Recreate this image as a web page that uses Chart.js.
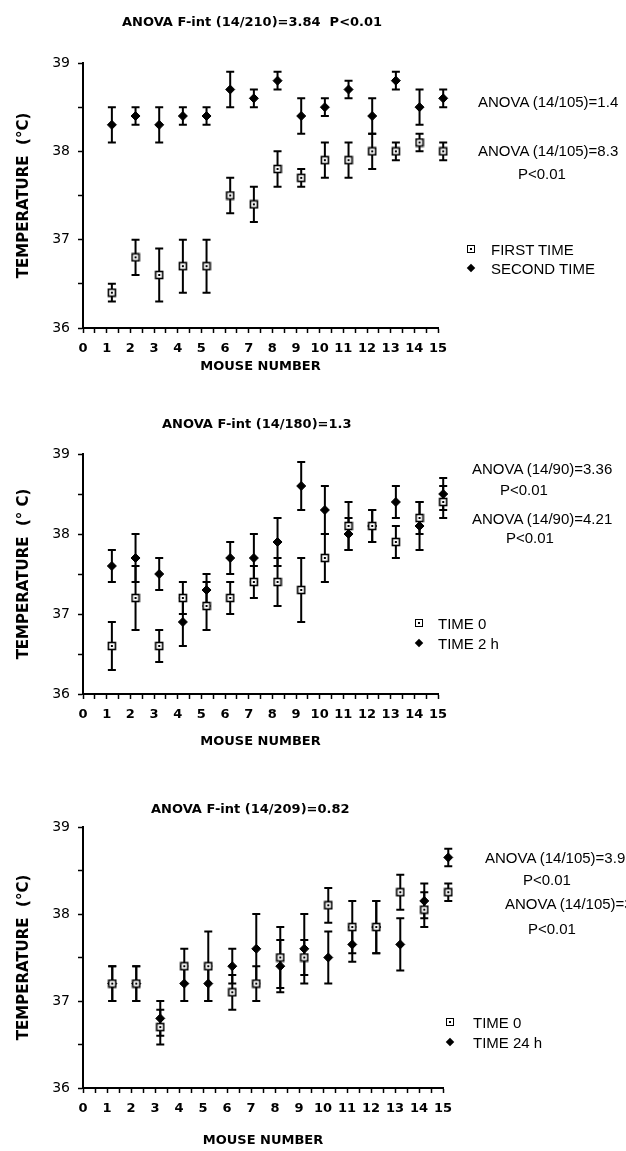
<!DOCTYPE html>
<html>
<head>
<meta charset="utf-8">
<script src="https://cdn.jsdelivr.net/npm/chart.js@4.4.1/dist/chart.umd.min.js"></script>
<style>
  html, body { margin: 0; padding: 0; background: #fff; }
  body { width: 626px; height: 1151px; position: relative; overflow: hidden; }
  .box { position: absolute; left: 0; width: 626px; }
  .txt { position: absolute; white-space: nowrap; color: #000; transform: translateY(-50%);
         font-family: 'Liberation Sans', sans-serif; font-size: 15px; line-height: 1; }
  .ttl { font-family: 'DejaVu Sans', sans-serif; font-weight: bold; font-size: 13px; }
  .sq { position: absolute; width: 6px; height: 6px; border: 1.5px solid #000; transform: translate(-50%, -50%); }
  .sq::after { content: ''; position: absolute; left: 2px; top: 2px; width: 2px; height: 2px; background: #000; }
  .dm { position: absolute; width: 6px; height: 6px; background: #000; transform: translate(-50%, -50%) rotate(45deg); }
</style>
</head>
<body>
<div class="box" style="top:0;height:374px"><canvas id="c1"></canvas></div>
<div class="box" style="top:380px;height:369px"><canvas id="c2"></canvas></div>
<div class="box" style="top:770px;height:378px"><canvas id="c3"></canvas></div>

<div class="txt ttl" style="left:122px;top:21px">ANOVA F-int (14/210)=3.84&nbsp; P&lt;0.01</div>
<div class="txt" style="left:478px;top:101px">ANOVA (14/105)=1.4</div>
<div class="txt" style="left:478px;top:150px">ANOVA (14/105)=8.3</div>
<div class="txt" style="left:518px;top:173px">P&lt;0.01</div>
<span class="sq" style="left:471px;top:249px"></span>
<div class="txt" style="left:491px;top:249px">FIRST TIME</div>
<span class="dm" style="left:471px;top:268px"></span>
<div class="txt" style="left:491px;top:268px">SECOND TIME</div>

<div class="txt ttl" style="left:162px;top:423px">ANOVA F-int (14/180)=1.3</div>
<div class="txt" style="left:472px;top:468px">ANOVA (14/90)=3.36</div>
<div class="txt" style="left:500px;top:489px">P&lt;0.01</div>
<div class="txt" style="left:472px;top:518px">ANOVA (14/90)=4.21</div>
<div class="txt" style="left:506px;top:537px">P&lt;0.01</div>
<span class="sq" style="left:419px;top:623px"></span>
<div class="txt" style="left:438px;top:623px">TIME 0</div>
<span class="dm" style="left:419px;top:643px"></span>
<div class="txt" style="left:438px;top:643px">TIME 2 h</div>

<div class="txt ttl" style="left:151px;top:808px">ANOVA F-int (14/209)=0.82</div>
<div class="txt" style="left:485px;top:857px">ANOVA (14/105)=3.92</div>
<div class="txt" style="left:523px;top:879px">P&lt;0.01</div>
<div class="txt" style="left:505px;top:903px">ANOVA (14/105)=3.79</div>
<div class="txt" style="left:528px;top:928px">P&lt;0.01</div>
<span class="sq" style="left:450px;top:1022px"></span>
<div class="txt" style="left:473px;top:1022px">TIME 0</div>
<span class="dm" style="left:450px;top:1042px"></span>
<div class="txt" style="left:473px;top:1042px">TIME 24 h</div>

<script>
// mouse numbers
const mice = [1, 2, 3, 4, 5, 6, 7, 8, 9, 10, 11, 12, 13, 14, 15];

// panel 1: first vs second time
const firstTime = [36.4, 36.8, 36.6, 36.7, 36.7, 37.5, 37.4, 37.8, 37.7, 37.9, 37.9, 38.0, 38.0, 38.1, 38.0];
const firstErr  = [0.1, 0.2, 0.3, 0.3, 0.3, 0.2, 0.2, 0.2, 0.1, 0.2, 0.2, 0.2, 0.1, 0.1, 0.1];
const secondTime = [38.3, 38.4, 38.3, 38.4, 38.4, 38.7, 38.6, 38.8, 38.4, 38.5, 38.7, 38.4, 38.8, 38.5, 38.6];
const secondErr  = [0.2, 0.1, 0.2, 0.1, 0.1, 0.2, 0.1, 0.1, 0.2, 0.1, 0.1, 0.2, 0.1, 0.2, 0.1];

// panel 2: time 0 vs 2 h
const time0a = [36.6, 37.2, 36.6, 37.2, 37.1, 37.2, 37.4, 37.4, 37.3, 37.7, 38.1, 38.1, 37.9, 38.2, 38.4];
const time0aErr = [0.3, 0.4, 0.2, 0.2, 0.3, 0.2, 0.2, 0.3, 0.4, 0.3, 0.3, 0.2, 0.2, 0.2, 0.2];
const time2h = [37.6, 37.7, 37.5, 36.9, 37.3, 37.7, 37.7, 37.9, 38.6, 38.3, 38.0, 38.1, 38.4, 38.1, 38.5];
const time2hErr = [0.2, 0.3, 0.2, 0.3, 0.2, 0.2, 0.3, 0.3, 0.3, 0.3, 0.2, 0.2, 0.2, 0.3, 0.2];

// panel 3: time 0 vs 24 h
const time0b = [37.2, 37.2, 36.7, 37.4, 37.4, 37.1, 37.2, 37.5, 37.5, 38.1, 37.85, 37.85, 38.25, 38.05, 38.25];
const time0bErr = [0.2, 0.2, 0.2, 0.2, 0.4, 0.2, 0.2, 0.35, 0.2, 0.2, 0.3, 0.3, 0.2, 0.2, 0.1];
const time24h = [37.2, 37.2, 36.8, 37.2, 37.2, 37.4, 37.6, 37.4, 37.6, 37.5, 37.65, 37.85, 37.65, 38.15, 38.65];
const time24hErr = [0.2, 0.2, 0.2, 0.2, 0.2, 0.2, 0.4, 0.3, 0.4, 0.3, 0.2, 0.3, 0.3, 0.2, 0.1];

// points sit a little right of the tick marks in the original
const SHIFT = 0.22;

function pts(vals) {
  return mice.map((m, i) => ({ x: m + SHIFT, y: vals[i] }));
}

// open square with a dot in the middle
function squareMarker() {
  const c = document.createElement('canvas');
  c.width = 10; c.height = 10;
  const g = c.getContext('2d');
  g.fillStyle = '#fff';
  g.fillRect(1, 1, 8, 8);
  g.strokeStyle = '#000';
  g.lineWidth = 1.6;
  g.strokeRect(1.5, 1.5, 7, 7);
  g.fillStyle = '#000';
  g.fillRect(4, 4, 2, 2);
  return c;
}
const sqImg = squareMarker();

const errorBars = {
  id: 'errorBars',
  beforeDatasetsDraw(chart) {
    const { ctx, scales: { x, y } } = chart;
    ctx.save();
    ctx.strokeStyle = '#000';
    ctx.lineWidth = 2;
    chart.data.datasets.forEach(ds => {
      ds.data.forEach((p, j) => {
        const px = x.getPixelForValue(p.x);
        const top = y.getPixelForValue(p.y + ds.errors[j]);
        const bot = y.getPixelForValue(p.y - ds.errors[j]);
        ctx.beginPath();
        ctx.moveTo(px, top); ctx.lineTo(px, bot);
        ctx.moveTo(px - 4, top); ctx.lineTo(px + 4, top);
        ctx.moveTo(px - 4, bot); ctx.lineTo(px + 4, bot);
        ctx.stroke();
      });
    });
    ctx.restore();
  }
};

Chart.defaults.font.family = "'DejaVu Sans', sans-serif";
Chart.defaults.color = '#000';

function makeChart(id, squares, squareErr, diamonds, diamondErr, opts) {
  new Chart(document.getElementById(id), {
    type: 'scatter',
    data: {
      datasets: [
        // radius only matters for the in-area check here, the image keeps its own size
        { data: pts(squares), errors: squareErr, pointStyle: sqImg, pointRadius: 8, clip: false },
        { data: pts(diamonds), errors: diamondErr, pointStyle: 'rectRot', pointRadius: 4.5, clip: false,
          backgroundColor: '#000', borderColor: '#000', borderWidth: 1 }
      ]
    },
    options: {
      responsive: true,
      maintainAspectRatio: false,
      animation: false,
      events: [],
      layout: { padding: { top: opts.top, right: 626 - opts.right, left: 0, bottom: 0 } },
      plugins: { legend: { display: false }, tooltip: { enabled: false } },
      scales: {
        x: {
          type: 'linear', min: 0, max: 15,
          afterFit: s => { s.height = opts.axisH; },
          grid: { drawOnChartArea: false, color: '#000', tickLength: 5, tickWidth: 1.5 },
          border: { color: '#000', width: 2 },
          ticks: {
            stepSize: 0.5, autoSkip: false, maxRotation: 0, padding: 8,
            font: { size: 13, weight: 'bold' },
            callback: v => Number.isInteger(v) ? v : ''
          },
          title: { display: true, text: 'MOUSE NUMBER', font: { size: 13, weight: 'bold' },
                   padding: { bottom: opts.titlePad } }
        },
        y: {
          min: 36, max: 39,
          afterFit: s => { s.width = 83; },
          grid: { drawOnChartArea: false, color: '#000', tickLength: 5, tickWidth: 1.5 },
          border: { color: '#000', width: 2 },
          ticks: {
            stepSize: 0.5, autoSkip: false, padding: 8,
            font: { size: 14 },
            callback: v => Number.isInteger(v) ? v : ''
          },
          title: { display: true, text: opts.yTitle, font: { size: 15, weight: 'bold' },
                   padding: { top: 15 } }
        }
      }
    },
    plugins: [errorBars]
  });
}

makeChart('c1', firstTime, firstErr, secondTime, secondErr,
  { top: 63, right: 438, axisH: 46, titlePad: 0, yTitle: 'TEMPERATURE  (°C)' });
makeChart('c2', time0a, time0aErr, time2h, time2hErr,
  { top: 74, right: 438, axisH: 55, titlePad: 0, yTitle: 'TEMPERATURE  (° C)' });
makeChart('c3', time0b, time0bErr, time24h, time24hErr,
  { top: 57, right: 443, axisH: 60, titlePad: 0, yTitle: 'TEMPERATURE  (°C)' });
</script>
</body>
</html>
